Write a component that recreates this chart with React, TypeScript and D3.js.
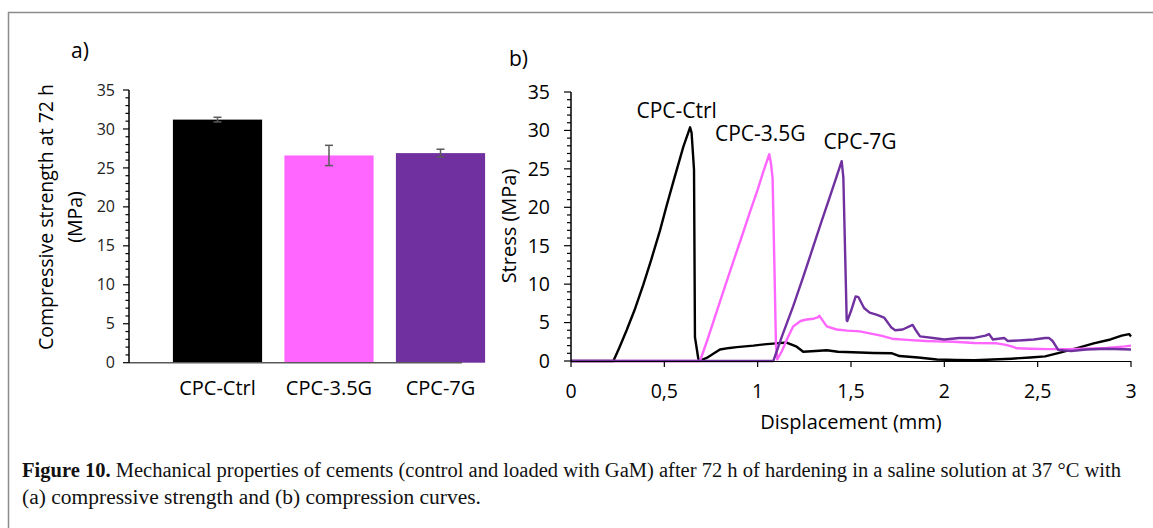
import React from "react";
import * as d3 from "d3";

// Panel a: compressive strength after 72 h
const categories = ["CPC-Ctrl", "CPC-3.5G", "CPC-7G"];
const strengthMean = [31.2, 26.6, 26.9];
const strengthErr = [0.3, 1.3, 0.5];
const seriesColors = ["#000000", "#FF66FF", "#7030A0"];
const strengthTicks = [0, 5, 10, 15, 20, 25, 30, 35];

// Panel b: stress–displacement curves, [displacement mm, stress MPa]
const ctrlCurve: [number, number][] = [
  [0, 0], [0.227, 0], [0.26, 1.8], [0.298, 4.0], [0.34, 6.6], [0.387, 9.9], [0.43, 13.2],
  [0.477, 17.0], [0.51, 20.0], [0.548, 23.3], [0.602, 27.9], [0.638, 30.4], [0.646, 29.7],
  [0.659, 24.9], [0.662, 12], [0.664, 3.1], [0.682, 0.3], [0.69, 0.05], [0.727, 0.4],
  [0.76, 0.9], [0.798, 1.5], [0.85, 1.7], [0.888, 1.8], [0.977, 2.0], [1.048, 2.2], [1.1, 2.3],
  [1.155, 2.4], [1.209, 1.86], [1.244, 1.2], [1.31, 1.3], [1.37, 1.4], [1.43, 1.2],
  [1.548, 1.1], [1.62, 1.05], [1.72, 1.0], [1.76, 0.65], [1.86, 0.45], [1.96, 0.2],
  [2.06, 0.13], [2.16, 0.1], [2.26, 0.2], [2.36, 0.3], [2.46, 0.45], [2.54, 0.6], [2.62, 1.1],
  [2.72, 1.75], [2.8, 2.3], [2.89, 2.8], [2.95, 3.3], [2.99, 3.5], [3.0, 3.2],
];
const g35Curve: [number, number][] = [
  [0, 0], [0.691, 0], [0.73, 2.7], [0.78, 6.4], [0.825, 9.7], [0.869, 12.9], [0.915, 16.2],
  [0.959, 19.4], [1.0, 22.3], [1.03, 24.6], [1.062, 26.9], [1.07, 25.9], [1.08, 23.8],
  [1.09, 12], [1.098, 2.1], [1.105, 0.2], [1.13, 1.3], [1.16, 3.0], [1.19, 4.5], [1.23, 5.2],
  [1.262, 5.4], [1.3, 5.5], [1.325, 5.7], [1.33, 5.9], [1.37, 4.5], [1.423, 4.1], [1.48, 3.95],
  [1.548, 3.85], [1.6, 3.6], [1.66, 3.3], [1.72, 2.9], [1.8, 2.75], [1.9, 2.6], [1.96, 2.55],
  [2.05, 2.5], [2.16, 2.35], [2.28, 2.3], [2.33, 2.1], [2.36, 1.9], [2.39, 1.65], [2.46, 1.6],
  [2.56, 1.55], [2.66, 1.55], [2.76, 1.6], [2.87, 1.7], [2.97, 1.9], [3.0, 2.0],
];
const g7Curve: [number, number][] = [
  [0, 0], [1.084, 0], [1.13, 3.2], [1.19, 7.1], [1.245, 11.0], [1.298, 14.9], [1.34, 18.0],
  [1.387, 21.4], [1.42, 23.8], [1.45, 26.0], [1.459, 23.9], [1.477, 5.3], [1.48, 5.2],
  [1.5, 6.5], [1.525, 8.4], [1.54, 8.3], [1.57, 6.9], [1.6, 6.3], [1.64, 6.0], [1.677, 5.65],
  [1.697, 5.0], [1.716, 4.35], [1.737, 4.0], [1.777, 4.1], [1.83, 4.7], [1.85, 3.9], [1.87, 3.2],
  [1.94, 3.0], [2.0, 2.8], [2.08, 3.0], [2.16, 3.0], [2.22, 3.3], [2.24, 3.5], [2.26, 2.8],
  [2.32, 3.0], [2.34, 2.6], [2.42, 2.7], [2.48, 2.8], [2.54, 3.0], [2.56, 3.0], [2.58, 2.6],
  [2.61, 1.45], [2.68, 1.3], [2.76, 1.5], [2.87, 1.6], [3.0, 1.5],
];
const curves = [ctrlCurve, g35Curve, g7Curve];
// label anchor (center) for each curve, in data units
const curveLabelPos: [number, number][] = [[0.566, 32.6], [1.014, 29.6], [1.548, 28.5]];
const dispTicks = [0, 0.5, 1, 1.5, 2, 2.5, 3];
const stressTicks = [0, 5, 10, 15, 20, 25, 30, 35];

const FONT = "'Open Sans', sans-serif";
const SERIF = "'Liberation Serif', 'DejaVu Serif', serif";

export default function App() {
  const W = 1153;
  const H = 528;

  // ---- panel a scales
  const ya = d3.scaleLinear().domain([0, 35]).range([362.7, 90]);
  const xa = d3
    .scaleBand<string>()
    .domain(categories)
    .range([161.75, 496.25])
    .paddingInner(0.2)
    .paddingOuter(0.1);
  const axA = 129;

  // ---- panel b scales
  const xb = d3.scaleLinear().domain([0, 3]).range([571, 1131]);
  const yb = d3.scaleLinear().domain([0, 35]).range([361, 92]);
  const line = d3
    .line<[number, number]>()
    .x((d) => xb(d[0]))
    .y((d) => yb(d[1]));

  const minorA = d3.range(0, 36, 1);
  const minorB = d3.range(0, 36, 1);
  const fmtComma = (v: number) => String(v).replace(".", ",");

  return (
    <svg
      width={W}
      height={H}
      viewBox={`0 0 ${W} ${H}`}
      style={{ position: "absolute", left: 0, top: 0, background: "#fff" }}
    >
      {/* frame */}
      <line x1={8} y1={12.5} x2={W} y2={12.5} stroke="#8c8c8c" strokeWidth={1.5} />
      <line x1={8.5} y1={12} x2={8.5} y2={H} stroke="#8c8c8c" strokeWidth={1.5} />

      {/* ===== panel a ===== */}
      <text x={71} y={58} fontFamily={FONT} fontSize={21} fill="#000">a)</text>

      {categories.map((c, i) => (
        <rect
          key={c}
          x={xa(c)}
          y={ya(strengthMean[i])}
          width={xa.bandwidth()}
          height={ya(0) - ya(strengthMean[i])}
          fill={seriesColors[i]}
        />
      ))}
      {categories.map((c, i) => {
        const cx = (xa(c) as number) + xa.bandwidth() / 2;
        const t = ya(strengthMean[i] + strengthErr[i]);
        const b = ya(strengthMean[i] - strengthErr[i]);
        return (
          <g key={"e" + c} stroke="#5a5a5a" strokeWidth={1.5}>
            <line x1={cx} x2={cx} y1={t} y2={b} />
            <line x1={cx - 4} x2={cx + 4} y1={t} y2={t} />
            <line x1={cx - 4} x2={cx + 4} y1={b} y2={b} />
          </g>
        );
      })}
      {/* baseline */}
      <line x1={axA} x2={462} y1={ya(0)} y2={ya(0)} stroke="#5a5a5a" strokeWidth={1.5} />
      {/* y axis */}
      <line x1={axA} x2={axA} y1={ya(35)} y2={ya(0)} stroke="#000" strokeWidth={1.5} />
      {minorA.map((v) => (
        <line
          key={"ma" + v}
          x1={axA - (v % 5 === 0 ? 6 : 3.5)}
          x2={axA}
          y1={ya(v)}
          y2={ya(v)}
          stroke="#000"
          strokeWidth={1.2}
        />
      ))}
      {strengthTicks.map((v) => (
        <text
          key={"ta" + v}
          x={115}
          y={ya(v)}
          dy="0.35em"
          textAnchor="end"
          fontFamily={FONT}
          fontSize={16}
          fill="#222"
        >
          {v}
        </text>
      ))}
      {categories.map((c) => (
        <text
          key={"ca" + c}
          x={(xa(c) as number) + xa.bandwidth() / 2}
          y={388}
          dy="0.35em"
          textAnchor="middle"
          fontFamily={FONT}
          fontSize={20}
          fill="#000"
        >
          {c}
        </text>
      ))}
      <g transform="translate(46,217) rotate(-90)">
        <text textAnchor="middle" dy="0.35em" fontFamily={FONT} fontSize={19.5} fill="#000">
          Compressive strength at 72 h
        </text>
      </g>
      <g transform="translate(75,217) rotate(-90)">
        <text textAnchor="middle" dy="0.35em" fontFamily={FONT} fontSize={19.5} fill="#000">
          (MPa)
        </text>
      </g>

      {/* ===== panel b ===== */}
      <text x={509} y={66} fontFamily={FONT} fontSize={21} fill="#000">b)</text>

      {curves.map((c, i) => (
        <path
          key={"c" + i}
          d={line(c) as string}
          fill="none"
          stroke={seriesColors[i]}
          strokeWidth={2.4}
          strokeLinejoin="round"
        />
      ))}
      {categories.map((c, i) => (
        <text
          key={"lb" + c}
          x={xb(curveLabelPos[i][0])}
          y={yb(curveLabelPos[i][1])}
          dy="0.35em"
          textAnchor="middle"
          fontFamily={FONT}
          fontSize={21}
          fill="#000"
        >
          {c}
        </text>
      ))}

      {/* axes */}
      <line x1={xb(0)} x2={xb(0)} y1={yb(35)} y2={yb(0)} stroke="#000" strokeWidth={1.5} />
      <line x1={xb(0)} x2={xb(3)} y1={yb(0) + 0.5} y2={yb(0) + 0.5} stroke="#000" strokeWidth={1.2} />
      {minorB.map((v) => (
        <line
          key={"mb" + v}
          x1={xb(0) - (v % 5 === 0 ? 7 : 4)}
          x2={xb(0)}
          y1={yb(v)}
          y2={yb(v)}
          stroke="#000"
          strokeWidth={1.2}
        />
      ))}
      {stressTicks.map((v) => (
        <text
          key={"tb" + v}
          x={550}
          y={yb(v)}
          dy="0.35em"
          textAnchor="end"
          fontFamily={FONT}
          fontSize={19.5}
          fill="#000"
        >
          {v}
        </text>
      ))}
      {dispTicks.map((v) => (
        <g key={"xb" + v}>
          <line x1={xb(v)} x2={xb(v)} y1={yb(0)} y2={yb(0) + 6} stroke="#000" strokeWidth={1.2} />
          <text
            x={xb(v)}
            y={yb(0) + 30}
            dy="0.35em"
            textAnchor="middle"
            fontFamily={FONT}
            fontSize={19.5}
            fill="#000"
          >
            {fmtComma(v)}
          </text>
        </g>
      ))}
      <g transform="translate(509,226) rotate(-90)">
        <text textAnchor="middle" dy="0.35em" fontFamily={FONT} fontSize={20} fill="#000">
          Stress (MPa)
        </text>
      </g>
      <text x={851} y={422} dy="0.35em" textAnchor="middle" fontFamily={FONT} fontSize={20} fill="#000">
        Displacement (mm)
      </text>

      {/* caption */}
      <text x={22} y={477} fontFamily={SERIF} fontSize={20} fill="#111" textLength={1099} lengthAdjust="spacingAndGlyphs">
        <tspan fontWeight="bold">Figure 10.</tspan>
        <tspan> Mechanical properties of cements (control and loaded with GaM) after 72 h of hardening in a saline solution at 37 °C with</tspan>
      </text>
      <text x={22} y={504} fontFamily={SERIF} fontSize={20} fill="#111" textLength={459} lengthAdjust="spacingAndGlyphs">
        (a) compressive strength and (b) compression curves.
      </text>
    </svg>
  );
}
